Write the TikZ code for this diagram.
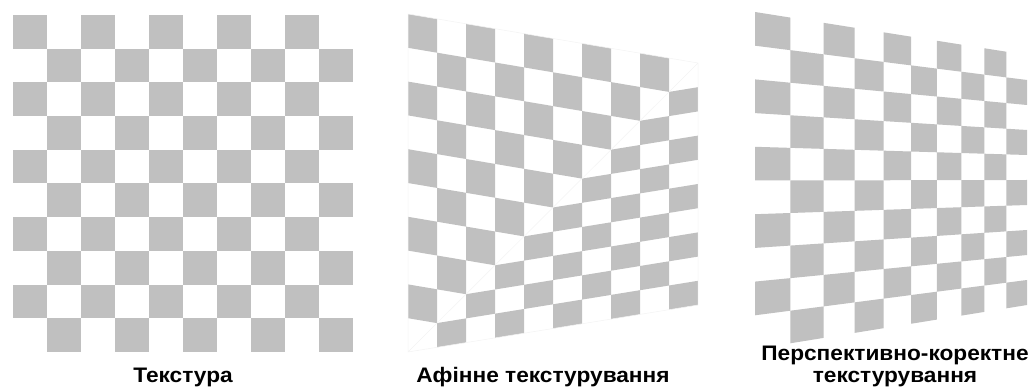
\documentclass[tikz,border=0pt]{standalone}
\usepackage{fontspec}
\newfontfamily\lblfont{Liberation Sans}[FakeStretch=1.08]
\definecolor{chk}{RGB}{192,192,192}
\definecolor{seam}{RGB}{244,244,244}
\begin{document}
\begin{tikzpicture}[x=1pt,y=-1pt,
  lbl/.style={font=\lblfont\bfseries\fontsize{21}{22}\selectfont, inner sep=0pt, text=black},
  cell/.style={fill=chk},
  seamline/.style={draw=seam, line width=0.5pt}]
\useasboundingbox (0,0) rectangle (1029,390);
\fill[white] (0,0) rectangle (1029,390);

% ---- board 1: plain texture
\foreach \j in {0,...,9}{
  \foreach \ii in {0,2,...,8}{
    \pgfmathtruncatemacro\ci{\ii+mod(\j,2)}
    \path[cell] ({13+34*\ci},{15+33.7*\j}) rectangle ++(34,33.7);
  }}

% ---- board 2: affine (two triangles)
\coordinate (aTL) at (408,14);
\coordinate (aTR) at (698,63);
\coordinate (aBL) at (408,352);
\coordinate (aBR) at (698,305);
\begin{scope}
  \clip (aTL) -- (aTR) -- (aBL) -- cycle;
  \foreach \j in {0,...,9}{
    \foreach \ii in {0,2,...,8}{
      \pgfmathtruncatemacro\ci{\ii+mod(\j,2)}
      \path[cell] ({408+29*\ci},{14+4.9*\ci+33.8*\j})
        -- ({408+29*(\ci+1)},{14+4.9*(\ci+1)+33.8*\j})
        -- ({408+29*(\ci+1)},{14+4.9*(\ci+1)+33.8*(\j+1)})
        -- ({408+29*\ci},{14+4.9*\ci+33.8*(\j+1)}) -- cycle;
    }}
\end{scope}
\begin{scope}
  \clip (aBL) -- (aTR) -- (aBR) -- cycle;
  \foreach \j in {0,...,9}{
    \foreach \ii in {0,2,...,8}{
      \pgfmathtruncatemacro\ci{\ii+mod(\j,2)}
      \path[cell] ({408+29*\ci},{110-4.7*\ci+24.2*\j})
        -- ({408+29*(\ci+1)},{110-4.7*(\ci+1)+24.2*\j})
        -- ({408+29*(\ci+1)},{110-4.7*(\ci+1)+24.2*(\j+1)})
        -- ({408+29*\ci},{110-4.7*\ci+24.2*(\j+1)}) -- cycle;
    }}
\end{scope}
\path[seamline] (aTL) -- (aTR) -- (aBR) -- (aBL) -- cycle (aBL) -- (aTR);

% ---- board 3: perspective-correct
\foreach \ci in {0,...,9}{
  \pgfmathsetmacro\sa{\ci*337/(250*(10-\ci)+\ci*337)}
  \pgfmathsetmacro\sb{(\ci+1)*337/(250*(9-\ci)+(\ci+1)*337)}
  \pgfmathsetmacro\xa{755+272*\sa}
  \pgfmathsetmacro\xb{755+272*\sb}
  \pgfmathsetmacro\ta{12+43*\sa}
  \pgfmathsetmacro\tb{12+43*\sb}
  \pgfmathsetmacro\ba{349-44*\sa}
  \pgfmathsetmacro\bb{349-44*\sb}
  \foreach \jj in {0,2,...,8}{
    \pgfmathtruncatemacro\cj{\jj+mod(\ci,2)}
    \path[cell] (\xa,{\ta+(\ba-\ta)*\cj/10})
      -- (\xb,{\tb+(\bb-\tb)*\cj/10})
      -- (\xb,{\tb+(\bb-\tb)*(\cj+1)/10})
      -- (\xa,{\ta+(\ba-\ta)*(\cj+1)/10}) -- cycle;
  }}

% ---- labels
\node[lbl, anchor=base] (t1) at (183,382) {Текстура};
\node[lbl, anchor=base] (t2) at (543,382) {Афінне текстурування};
\node[lbl, anchor=base, align=center] (t3) at (895,382) {Перспективно-коректне\\текстурування};
\end{tikzpicture}
\end{document}
